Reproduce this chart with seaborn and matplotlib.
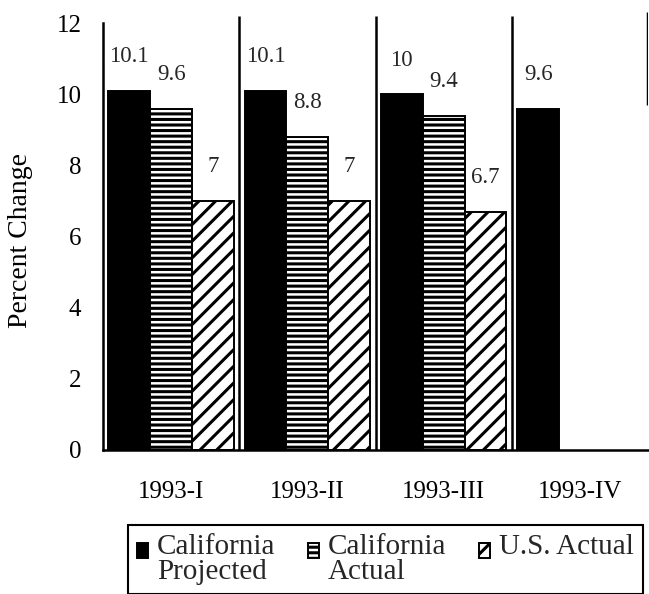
import matplotlib
matplotlib.use("Agg")
import matplotlib.pyplot as plt
import seaborn as sns
import pandas as pd
import numpy as np

# Quarterly percent change, three series
quarters = ["1993-I", "1993-II", "1993-III", "1993-IV"]
series = ["California\nProjected", "California\nActual", "U.S. Actual"]
ca_projected = [10.1, 10.1, 10.0, 9.6]
ca_actual = [9.6, 8.8, 9.4, np.nan]
us_actual = [7.0, 7.0, 6.7, np.nan]
y_ticks = [0, 2, 4, 6, 8, 10, 12]

sns.set_theme(style="white")
plt.rcParams["font.family"] = ["Liberation Serif", "DejaVu Serif"]
plt.rcParams["hatch.linewidth"] = 2.2
plt.rcParams["hatch.color"] = "black"

rows = []
for name, vals in zip(series, [ca_projected, ca_actual, us_actual]):
    for q, v in zip(quarters, vals):
        rows.append({"quarter": q, "series": name, "value": v})
df = pd.DataFrame(rows)

fig = plt.figure(figsize=(6.49, 5.94), dpi=100)
ax = fig.add_axes([103 / 649, 144 / 594, 545 / 649, 440 / 594])

sns.barplot(data=df, x="quarter", y="value", hue="series",
            order=quarters, hue_order=series,
            palette=["black", "white", "white"], saturation=1,
            width=0.92, gap=0, errorbar=None,
            edgecolor="black", linewidth=1.4, ax=ax)
ax.get_legend().remove()

for cont, hatch in zip(ax.containers, ["", "---", "//"]):
    for p in cont.patches:
        p.set_hatch(hatch)
    ax.bar_label(cont, fmt="%g", padding=17, fontsize=16.5)

ax.set_xlim(-0.5, 3.5)
ax.set_ylim(0, 12.37)

# group separators
ax.vlines([0.5, 1.5, 2.5], 0, 12.2, color="black", lw=1.8)
ax.vlines([3.5], 9.7, 12.3, color="black", lw=2.5)

for s in ["top", "right"]:
    ax.spines[s].set_visible(False)
ax.spines["left"].set_bounds(0, 12)
ax.spines["left"].set_linewidth(1.8)
ax.spines["bottom"].set_linewidth(1.8)
ax.spines["left"].set_color("black")
ax.spines["bottom"].set_color("black")

ax.set_yticks(y_ticks)
ax.set_yticklabels([str(t) for t in y_ticks])
ax.tick_params(axis="y", direction="inout", length=11, width=1.5,
               labelsize=18, pad=10, colors="black")

ax.set_xticks([-0.5, 0.5, 1.5, 2.5])
ax.set_xticklabels([])
ax.tick_params(axis="x", which="major", direction="out", length=6,
               width=1.5, colors="black")
ax.set_xticks([0, 1, 2, 3], minor=True)
ax.set_xticklabels(quarters, minor=True)
ax.tick_params(axis="x", which="minor", length=0, pad=22, labelsize=18,
               labelcolor="black")

ax.set_xlabel("")
ax.set_ylabel("Percent Change", fontsize=20, color="black")
ax.yaxis.set_label_coords(-0.128, 0.477)

leg = fig.legend(handles=list(ax.containers), labels=series,
                 loc="upper left", bbox_to_anchor=(128 / 649, 1 - 525 / 594),
                 ncol=3, fontsize=21, frameon=True, fancybox=False,
                 edgecolor="black", framealpha=1,
                 handlelength=0.4, handleheight=0.4, handletextpad=0.3,
                 columnspacing=1.1, borderpad=0.3, borderaxespad=0)
leg.get_frame().set_linewidth(1.5)
for t in leg.get_texts():
    t.set_linespacing(0.95)

# put each legend swatch next to the first line of its label
leg._legend_handle_box.align = "top"
for col in leg._legend_handle_box.get_children():
    col.align = "top"
    for item in col.get_children():
        item.align = "top"
        da = item.get_children()[0]
        da.height += 7

fig.savefig("out.png", dpi=100)
